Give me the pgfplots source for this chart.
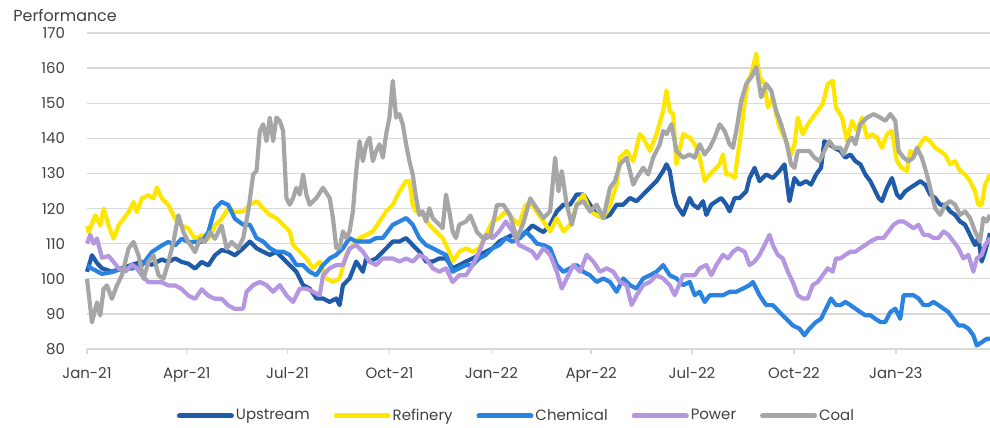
\documentclass[border=0pt]{standalone}
\usepackage{pgfplots}
\pgfplotsset{compat=1.18}
\usepackage{fontspec}
\setmainfont{Poppins}
\definecolor{cUp}{HTML}{1F5BA8}
\definecolor{cRef}{HTML}{FFE600}
\definecolor{cChem}{HTML}{2A83E0}
\definecolor{cPow}{HTML}{B497E0}
\definecolor{cCoal}{HTML}{A6A6A6}
\definecolor{gridc}{HTML}{D9D9D9}
\definecolor{labc}{HTML}{404040}
\begin{document}
\begin{tikzpicture}[font=\fontsize{7.5}{9}\selectfont]
\useasboundingbox (-43.5bp,-39.5bp) rectangle (451.5bp,174.5bp);
\begin{axis}[
  name=ax, at={(0,0)}, anchor=south west,
  scale only axis, width=451.5bp, height=158bp,
  xmin=0, xmax=815, ymin=80, ymax=170,
  ytick={80,90,...,170},
  xtick={0,90,181,273,365,455,546,638,730},
  xticklabels={Jan-21,Apr-21,Jul-21,Oct-21,Jan-22,Apr-22,Jul-22,Oct-22,Jan-23},
  axis x line*=bottom, axis y line*=left,
  y axis line style={draw=none},
  x axis line style={draw=gridc, line width=0.9bp, -},
  ymajorgrids, grid style={draw=gridc, line width=0.7bp},
  tick align=outside, major tick length=2.5bp,
  xtick style={draw=gridc, line width=0.7bp},
  ytick style={draw=none},
  /pgf/number format/assume math mode=true,
  ticklabel style={font=\fontsize{7.5}{9}\selectfont, text=labc},
  xticklabel style={yshift=-3bp},
  yticklabel style={xshift=-5bp},
  legend style={at={(0.4756,-0.212)}, anchor=center, draw=none, fill=none,
    legend columns=-1, font=\fontsize{7.5}{9}\selectfont, text=labc,
    nodes={inner sep=1bp},
    /tikz/every even column/.append style={column sep=11bp}},
  legend image code/.code={\draw[#1, line width=2.5bp, line cap=round] (0bp,0bp) -- (26bp,0bp);},
  every axis plot/.append style={line width=2.1bp, line join=round},
  clip=false,
]
\addplot[cUp] coordinates {(0,102) (4.5,106.7) (9,104.5) (13.5,103) (22.5,102) (31.5,103) (40.5,104) (49.5,104.8) (58.5,104) (67.5,105.5) (73.5,104.8) (79.5,105.8) (85.5,104.8) (91.5,104.3) (97.5,102.9) (103.5,104.8) (109.5,103.8) (115.5,106.7) (121.5,108.2) (127.5,107.7) (133.5,106.7) (141,108.7) (147,110.6) (153,108.7) (159,107.7) (165,106.8) (171,107.7) (177,105.8) (183,103.9) (189,102) (195,98.2) (201,97.2) (207,94.4) (213,94.4) (219,93.4) (225,94.4) (228,92.5) (231,98.2) (237,100.1) (243,104.9) (249,102) (252,105.8) (255,104.9) (261,105.8) (267,107.7) (276,110.6) (282,110.6) (288,111.6) (294,109.6) (300,107.7) (306,104.9) (312,104.9) (318,105.8) (324,105.8) (330,103) (336,103.9) (342,104.9) (348,105.8) (354,106.8) (360,107.7) (366,108.7) (372,110.6) (378,111.6) (384,112.5) (390,111.4) (396,113.3) (402,115.2) (408,114) (412,113.3) (418,115.4) (424,119.2) (430,121.1) (436,121.1) (442,124) (448,124) (454,121.1) (460,118.2) (466,117.3) (472,118.2) (478,121.1) (484,121.1) (490,123) (496,122.1) (502,124) (508,125.9) (514,127.8) (520,130.7) (523,132.6) (526,130.7) (529,124.9) (532,121.1) (538,118.2) (544,123) (547,121.1) (551.5,120.1) (556,122.1) (559,118.2) (563.5,121.1) (568,122.1) (572.5,123) (577,121.1) (580,119.2) (584.5,123) (589,123) (595,124.9) (598,128.7) (602.5,131.6) (607,127.8) (613,129.7) (619,128.7) (625,130.7) (629.5,132.6) (634,122.1) (638.5,128.7) (643,126.8) (649,127.8) (653.5,126.8) (658,129.7) (662.5,131.6) (665.5,139.2) (670,138.3) (674.5,137.3) (680,136.4) (684.5,134.5) (689,135.4) (693.5,133.5) (698,132.6) (702.5,129.7) (707,127.8) (710,125.9) (714.5,123) (717.5,122.1) (722,125.9) (726.5,128.7) (731,124) (734,123) (738.5,124.9) (743,125.9) (747.5,126.8) (752,127.8) (756.5,126.8) (761,124) (765.5,123) (770,121.1) (774.5,121.1) (779,119.2) (783.5,118.2) (788,116.3) (792.5,115.4) (797,112.5) (801.5,109.6) (804.5,111.6) (807.5,104.9) (810.5,107.7) (815,113)};
\addlegendentry{Upstream}
\addplot[cRef] coordinates {(0,115) (1.5,113.3) (7.5,118.1) (12,115.2) (15,120) (19.5,115.2) (24,111.4) (28.5,115.2) (33,117.1) (37.5,119) (42,121.9) (45,119) (49.5,122.9) (55.5,123.8) (60,122.9) (63,126) (67.5,122.9) (73.5,121) (79.5,117.1) (85.5,115.2) (91.5,114.3) (97.5,111.4) (103.5,112.4) (109.5,111.4) (115.5,115.2) (121.5,117.1) (127.5,120) (133.5,119) (141,119.2) (147,121.1) (153,122.1) (159,120.1) (165,118.2) (171,117.3) (177,115.4) (183,113.5) (186,109.6) (192,107.7) (198,105.8) (204,103) (210,104.9) (216,100.1) (222,99.1) (228,100.1) (234,106.8) (240,109.6) (246,111.6) (252,112.5) (258,113.5) (264,116.3) (270,119.2) (276,121.1) (282,124.9) (288,127.8) (291,127.8) (294,121.1) (297,119.2) (303,118.2) (309,115.4) (315,113.5) (321,111.6) (327,107.7) (330,104.9) (336,107.7) (342,108.7) (348,107.7) (354,108.7) (360,112.5) (366,116.3) (372,117.3) (378,119.2) (384,117.3) (390,115.4) (396,121.1) (402,121.1) (406,119) (412,116.3) (418,113.5) (424,117.3) (430,113.5) (436,115.4) (442,121.1) (448,124) (454,119.2) (460,118.2) (466,117.3) (472,121.1) (478,126.8) (481,134.5) (487,136.4) (493,133.5) (499,141.2) (502,140.2) (508,136.4) (514,141.2) (520,147.8) (523,153.6) (526,147.8) (529,146.9) (532,132.6) (538,141.2) (544,140.2) (548.5,138.3) (553,134.5) (557.5,127.8) (562,129.7) (568,131.6) (571,132.6) (574,135.4) (577,129.7) (581.5,129.7) (584.5,128.7) (587.5,135.4) (590.5,142.1) (593.5,149.8) (596.5,156.4) (599.5,158.3) (604,164.1) (607,157.4) (611.5,155.5) (614.5,148.8) (619,151.7) (622,146.9) (625,143.1) (631,139.2) (635.5,135.4) (638.5,138.3) (641.5,145.9) (646,141.2) (650.5,144) (655,145.9) (659.5,147.8) (664,149.8) (668.5,155.5) (673,156.4) (676,148.8) (681.5,145.9) (686,139.2) (690.5,145) (695,142.1) (699.5,145.9) (704,140.2) (708.5,141.2) (713,140.2) (717.5,137.3) (722,141.2) (726.5,142.1) (731,133.5) (735.5,131.6) (740,130.7) (743,136.4) (747.5,135.4) (752,138.3) (756.5,140.2) (761,139.2) (765.5,137.3) (770,136.4) (774.5,135.4) (779,132.6) (783.5,133.5) (788,130.7) (792.5,129.7) (797,127.8) (801.5,124.9) (804.5,121.1) (807.5,121.1) (810.5,126.8) (813.5,128.7) (815,129.7)};
\addlegendentry{Refinery}
\addplot[cChem] coordinates {(0,103.8) (4.5,102.9) (13.5,101.4) (22.5,101.9) (31.5,102.9) (40.5,102.9) (49.5,103.8) (58.5,107.6) (67.5,109.5) (73.5,110.5) (79.5,109.5) (85.5,111.4) (91.5,110.5) (97.5,110.5) (103.5,110.5) (109.5,113.3) (115.5,120) (121.5,121.9) (127.5,121) (133.5,117.1) (141,115.4) (147,115.4) (153,111.6) (159,110.6) (165,108.7) (171,107.7) (177,107.7) (183,106.8) (189,103.9) (195,103.9) (201,102) (207,101) (213,103.9) (219,105.8) (225,106.8) (231,108.7) (237,111.6) (243,110.6) (249,110.6) (255,110.6) (261,111.6) (267,111.6) (276,115.4) (282,116.3) (288,117.3) (294,115.4) (300,111.6) (306,109.6) (312,108.7) (318,107.7) (324,106.8) (330,102) (336,103) (342,103.9) (348,103.9) (354,105.8) (360,106.8) (366,108.7) (372,109.6) (378,111.6) (384,110.6) (390,111.6) (396,113.5) (402,111.6) (406,110) (412,109.6) (418,108.7) (424,103.9) (430,102) (436,103) (442,103.9) (448,102) (454,101) (460,99.1) (466,100.1) (472,99.1) (478,96.3) (484,100.1) (490,98.2) (496,97.2) (502,100.1) (508,101) (514,102) (520,103.9) (526,101) (532,100.1) (538,98.2) (544,99.1) (548.5,95.3) (553,96.3) (557.5,93.4) (562,95.3) (568,95.3) (574,95.3) (580,96.3) (586,96.3) (592,97.2) (598,98.2) (601,99.1) (607,95.3) (613,92.5) (619,92.5) (625,90.5) (631,88.6) (637,86.7) (643,85.8) (647.5,83.9) (652,85.8) (658,87.7) (662.5,88.6) (667,91.5) (671.5,94.4) (676,92.5) (680,92.5) (684.5,93.4) (689,92.5) (693.5,91.5) (698,90.5) (702.5,89.6) (707,89.6) (711.5,88.6) (716,87.7) (720.5,87.7) (725,90.5) (729.5,91.5) (734,88.6) (737,95.3) (741.5,95.3) (746,95.3) (750.5,94.4) (755,92.5) (759.5,92.5) (764,93.4) (768.5,92.5) (773,91.5) (777.5,90.5) (782,88.6) (786.5,86.7) (791,86.7) (795.5,85.8) (800,83.9) (803,81) (807.5,81.9) (812,82.9) (815,82.9)};
\addlegendentry{Chemical}
\addplot[cPow] coordinates {(0,110) (3,112.5) (6,110) (9,111.5) (13.5,106) (19.5,106.5) (24,104.8) (28.5,103) (34.5,102) (40.5,104) (45,103) (49.5,101) (55.5,99) (61.5,99) (67.5,99) (73.5,98.1) (79.5,98.1) (85.5,97.1) (91.5,95.2) (97.5,94.3) (103.5,97) (109.5,95.2) (115.5,94.3) (121.5,94.3) (127.5,92.4) (133.5,91.4) (141,91.5) (144,96.3) (150,98.2) (156,99.1) (162,98.2) (168,96.3) (174,98.2) (180,95.3) (186,93.4) (192,97.2) (198,97.2) (204,96.3) (210,95.3) (213,101) (219,103) (225,103.9) (231,103.9) (237,108.7) (243,109.6) (249,107.7) (255,104.9) (261,103.9) (267,105.8) (276,105.8) (282,104.9) (288,105.8) (294,104.9) (300,106.8) (306,105.8) (312,103) (318,102) (324,103) (330,99.1) (336,101) (342,101) (348,103.9) (354,107.7) (360,112.5) (366,111.6) (372,113.5) (378,116.3) (384,113.5) (390,109.6) (396,108.7) (402,107.7) (406,105.8) (412,108.7) (418,106.8) (424,102) (428.5,97.2) (433,100.1) (439,103.9) (445,102) (451,106.8) (457,104.9) (463,102) (469,103) (475,102) (481,99.1) (487,98.2) (491.5,92.5) (496,95.3) (502,98.2) (508,99.1) (514,101) (520,100.1) (526,98.2) (530.5,95.3) (538,101) (544,101) (548.5,101) (553,103) (559,103.9) (563.5,101) (568,103.9) (574,106.8) (578.5,105.8) (583,107.7) (587.5,108.7) (593.5,107.7) (598,103.9) (602.5,104.9) (607,106.8) (611.5,109.6) (616,112.5) (619,109.6) (623.5,106.8) (628,105.8) (632.5,102) (637,99.1) (641.5,95.3) (646,94.4) (650.5,94.4) (655,98.2) (659.5,99.1) (664,101) (668.5,103) (673,102) (676,105.8) (680,105.8) (684.5,106.8) (689,107.7) (693.5,107.7) (698,108.7) (702.5,109.6) (707,110.6) (713,111.6) (719,111.6) (723.5,113.5) (728,115.4) (732.5,116.3) (737,116.3) (741.5,115.4) (746,114.4) (750.5,115.4) (755,112.5) (759.5,112.5) (764,111.6) (768.5,111.6) (773,113.5) (777.5,112.5) (782,110.6) (786.5,108.7) (791,105.8) (795.5,106.8) (800,102) (803,105.8) (807.5,106.8) (810.5,109.6) (815,111.6)};
\addlegendentry{Power}
\addplot[cCoal] coordinates {(0,100) (4.5,87.6) (9,93.3) (12,89.5) (15,97.1) (18,98.1) (22.5,94.3) (27,98.1) (31.5,101) (37.5,108.6) (42,110.5) (46.5,106.7) (51,100) (55.5,104.8) (60,106.7) (64.5,101) (69,100) (73.5,104.8) (78,110.5) (82.5,118.1) (87,113.3) (91.5,110.5) (97.5,107.6) (102,111.4) (106.5,110.5) (111,113.3) (115.5,111.4) (121.5,115.2) (126,108.6) (130.5,110.5) (136.5,108.6) (141,111.6) (145.5,119.2) (150,129.7) (153,130.7) (156,142.1) (159,144) (162,139.2) (165,145.9) (168,139.2) (171,145.9) (174,145) (177,142.1) (180,123) (183,121.1) (186,123) (189,125.9) (192,124) (195,129.7) (198,124) (201,121.1) (207,123) (213,125.9) (219,123) (222,117.3) (225,108.7) (228,108.7) (231,113.5) (234,111.6) (237,113.5) (240,119.2) (243,130.7) (246,139.2) (249,133.5) (252,138.3) (255,140.2) (258,133.5) (261,136.4) (264,138.3) (267,134.5) (270,141.2) (273,145.9) (276,156.4) (279,145.9) (282,146.9) (285,144) (288,138.3) (291,133.5) (294,129.7) (297,123) (300,118.2) (303,119.2) (306,116.3) (309,120.1) (312,117.3) (315,116.3) (318,115.4) (321,114.4) (324,124) (327,119.2) (330,113.5) (333,111.6) (336,115.4) (342,116.3) (346,118) (352,113.3) (358,111.4) (364,112) (370,121) (376,121) (382,118) (388,111.4) (394,116) (400,122.9) (406,120) (412,117.3) (418,119.2) (422.5,134.5) (425.5,124.9) (428.5,130.7) (433,121.1) (437.5,115.4) (442,121.1) (448,122.1) (454,119.2) (460,121.1) (466,117.3) (472,125.9) (476.5,127.8) (481,132.6) (487,134.5) (490,130.7) (493,126.8) (496,128.7) (502,131.6) (506.5,129.7) (511,134.5) (517,138.3) (520,142.1) (523,141.2) (527.5,144) (532,136.4) (538,134.5) (544,135.4) (548.5,134.5) (553,138.3) (557.5,135.4) (562,137.3) (566.5,140.2) (571,144) (575.5,142.1) (580,138.3) (583,137.3) (586,142.1) (590.5,150.7) (595,155.5) (599.5,157.4) (604,160.3) (608.5,151.7) (613,155.5) (617.5,153.6) (622,147.8) (626.5,144) (631,139.2) (635.5,132.6) (638.5,131.6) (641.5,136.4) (646,136.4) (652,136.4) (656.5,134.5) (661,133.5) (665.5,136.4) (670,139.2) (674.5,137.3) (680,137.3) (683,135.4) (687.5,139.2) (690.5,140.2) (693.5,138.3) (698,144) (704,145.9) (710,146.9) (716,145.9) (720.5,145) (725,146.9) (729.5,145) (732.5,136.4) (737,134.5) (741.5,133.5) (746,134.5) (749,137.3) (753.5,134.5) (758,129.7) (761,125.9) (765.5,120.1) (770,118.2) (774.5,121.1) (779,122.1) (783.5,121.1) (788,118.2) (792.5,119.2) (797,117.3) (801.5,113.5) (806,110.6) (809,117.3) (812,116.3) (815,118.2)};
\addlegendentry{Coal}
\end{axis}
\node[anchor=west, inner sep=0, text=labc, font=\fontsize{8}{10}\selectfont] at ([xshift=-37bp, yshift=9bp]ax.north west) {Performance};
\end{tikzpicture}
\end{document}
